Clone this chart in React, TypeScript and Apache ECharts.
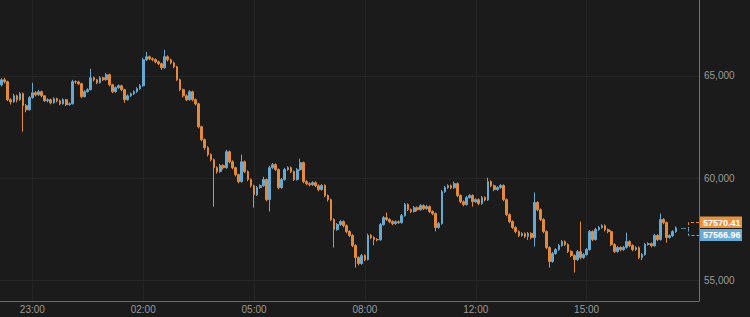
import React, { useEffect, useRef } from "react";
import * as echarts from "echarts";

const opens = [64560, 64800, 64710, 63830, 63730, 64020, 63830, 64120, 63540, 63340,
63930, 64170, 64070, 64220, 64020, 63780, 63830, 63680, 63880, 63780,
63630, 63830, 63590, 63630, 64710, 64700, 64610, 63980, 64220, 64320,
64900, 64800, 64660, 64900, 64810, 65050, 64560, 64220, 64420, 64510,
64320, 63830, 64020, 64120, 64220, 64370, 64510, 65780, 65930, 65830,
65790, 65680, 65590, 65390, 65930, 65780, 65630, 65440, 64810, 64320,
64020, 63830, 64220, 63830, 63630, 62510, 61880, 61490, 61150, 60900,
60510, 60320, 60610, 60510, 61290, 60800, 60510, 60170, 59830, 60800,
60320, 59930, 59630, 59190, 59540, 59630, 59930, 58950, 60510, 60660,
60420, 59540, 59930, 60420, 60510, 60320, 59930, 60410, 60760, 59830,
59730, 59680, 59780, 59630, 59440, 59640, 59150, 58950, 57980, 57490,
57730, 57880, 57680, 57390, 57200, 56710, 56120, 55830, 56220, 56020,
57200, 57100, 57000, 56990, 57730, 58070, 57980, 57880, 57780, 57870,
57830, 58170, 58710, 58460, 58370, 58560, 58460, 58660, 58510, 58610,
58370, 58270, 57590, 57780, 59340, 59540, 59630, 59530, 59730, 59150,
58850, 58710, 59050, 59150, 58850, 58950, 58760, 59050, 58940, 59830,
59630, 59440, 59540, 59640, 58950, 58220, 57880, 57590, 57390, 57200,
57290, 57150, 57300, 57100, 58810, 58460, 57980, 57390, 56610, 55930,
56320, 56510, 56710, 56900, 56760, 56420, 56220, 56020, 56410, 56120,
56270, 56510, 57390, 57000, 57490, 57590, 57680, 57480, 57390, 56760,
56420, 56610, 56510, 56620, 56900, 56710, 56510, 56600, 56120, 56270,
56760, 56800, 56700, 57200, 57000, 57980, 57830, 57100, 57190, 57390];

const closes = [64800, 64710, 63830, 63730, 64020, 63830, 64120, 63540, 63340, 63930,
64170, 64070, 64220, 64020, 63780, 63830, 63680, 63880, 63780, 63630,
63830, 63590, 63630, 64710, 64700, 64610, 63980, 64220, 64320, 64900,
64800, 64660, 64900, 64810, 65050, 64560, 64220, 64420, 64510, 64320,
63830, 64020, 64120, 64220, 64370, 64510, 65780, 65930, 65830, 65790,
65680, 65590, 65390, 65930, 65780, 65630, 65440, 64810, 64320, 64020,
63830, 64220, 63830, 63630, 62510, 61880, 61490, 61150, 60900, 60510,
60320, 60610, 60510, 61290, 60800, 60510, 60170, 59830, 60800, 60320,
59930, 59630, 59190, 59540, 59630, 59930, 58950, 60510, 60660, 60420,
59540, 59930, 60420, 60510, 60320, 59930, 60410, 60760, 59830, 59730,
59680, 59780, 59630, 59440, 59640, 59150, 58950, 57980, 57490, 57730,
57880, 57680, 57390, 57200, 56710, 56120, 55830, 56220, 56020, 57200,
57100, 57000, 56990, 57730, 58070, 57980, 57880, 57780, 57870, 57830,
58170, 58710, 58460, 58370, 58560, 58460, 58660, 58510, 58610, 58370,
58270, 57590, 57780, 59340, 59540, 59630, 59530, 59730, 59150, 58850,
58710, 59050, 59150, 58850, 58950, 58760, 59050, 58940, 59830, 59630,
59440, 59540, 59640, 58950, 58220, 57880, 57590, 57390, 57200, 57290,
57150, 57300, 57100, 58810, 58460, 57980, 57390, 56610, 55930, 56320,
56510, 56710, 56900, 56760, 56420, 56220, 56020, 56410, 56120, 56270,
56510, 57390, 57000, 57490, 57590, 57680, 57480, 57390, 56760, 56420,
56610, 56510, 56620, 56900, 56710, 56510, 56600, 56120, 56270, 56760,
56800, 56700, 57200, 57000, 57980, 57830, 57100, 57190, 57390, 57570.41];

const lows = [64480, 64620, 63760, 63600, 63680, 63700, 63780, 62270, 63220, 63300,
63880, 63990, 64020, 63950, 63720, 63700, 63610, 63640, 63700, 63560,
63590, 63520, 63540, 63600, 64610, 64540, 63900, 63940, 64180, 64280,
64720, 64590, 64620, 64740, 64760, 64480, 64150, 64170, 64360, 64250,
63680, 63790, 63970, 64060, 64170, 64320, 64470, 65720, 65760, 65710,
65610, 65520, 65290, 65350, 65700, 65560, 65370, 64740, 64250, 63940,
63760, 63780, 63750, 63550, 62430, 61800, 61380, 61060, 60820, 58610,
60220, 60260, 60420, 60460, 60720, 60430, 60080, 59740, 59780, 60240,
59850, 59540, 58560, 59130, 59480, 59580, 58870, 58370, 60450, 60350,
59450, 59490, 59880, 60360, 60250, 59860, 59880, 60360, 59750, 59650,
59600, 59620, 59560, 59360, 59390, 59070, 58860, 57900, 56610, 57430,
57670, 57600, 57310, 57120, 56630, 55630, 55740, 55770, 55940, 55980,
57020, 56720, 56910, 56940, 57680, 57910, 57800, 57700, 57720, 57760,
57780, 58120, 58390, 58290, 58320, 58380, 58410, 58440, 58460, 58300,
58190, 57400, 57530, 57730, 59280, 59480, 59460, 59480, 59070, 58770,
58630, 58660, 59000, 58610, 58790, 58680, 58700, 58870, 58890, 59560,
59360, 59380, 59480, 58870, 58140, 57800, 57510, 57310, 57120, 57140,
57070, 56980, 57020, 56660, 58380, 57900, 57310, 56530, 55630, 55870,
56260, 56450, 56650, 56680, 56340, 56140, 55390, 55960, 56040, 56060,
56210, 56460, 56920, 56950, 57430, 57530, 57400, 57310, 56680, 56340,
56360, 56430, 56450, 56560, 56630, 56430, 56450, 56040, 56000, 56210,
56700, 56620, 56650, 56920, 56950, 57750, 56850, 57040, 57130, 57330];

const highs = [64880, 64900, 64760, 63900, 64120, 64080, 64200, 64180, 63620, 64010,
64660, 64250, 64300, 64280, 64060, 63900, 63880, 63950, 63930, 63840,
63900, 63870, 63700, 64800, 64780, 64760, 64660, 64300, 64390, 65340,
64960, 64850, 64980, 64950, 65130, 65100, 64610, 64480, 64580, 64560,
64370, 64090, 64180, 64290, 64440, 64600, 65880, 66170, 65990, 65900,
65850, 65740, 65640, 66270, 66000, 65840, 65690, 65490, 64860, 64380,
64090, 64300, 64270, 63890, 63680, 62560, 61940, 61560, 61210, 60960,
60580, 60690, 60680, 61380, 61350, 60870, 60560, 60220, 61150, 60860,
60380, 59990, 59680, 59620, 59700, 60070, 59980, 60600, 60740, 60720,
60470, 60010, 60500, 60580, 60570, 60370, 60490, 60950, 60810, 59900,
59800, 59850, 59840, 59700, 59710, 59700, 59210, 59000, 58040, 57810,
57950, 57940, 57740, 57460, 57260, 56770, 56180, 56300, 56280, 57290,
57270, 57160, 57070, 57810, 58150, 58320, 58040, 57940, 57940, 57930,
58250, 58790, 58770, 58520, 58640, 58620, 58730, 58720, 58690, 58670,
58430, 58320, 57860, 59420, 59620, 59700, 59690, 59830, 59790, 59210,
58910, 59130, 59220, 59210, 59020, 59010, 59130, 59110, 60020, 59890,
59690, 59610, 59710, 59700, 59010, 58280, 57940, 57650, 57450, 57360,
57350, 57370, 57360, 59300, 58870, 58520, 58040, 57450, 56670, 56400,
56580, 56780, 56980, 56960, 56820, 56480, 56280, 56490, 57880, 56340,
56590, 57470, 57450, 57570, 57660, 57750, 57740, 57540, 57450, 56820,
56690, 56670, 56690, 57340, 56960, 56770, 56670, 56660, 56340, 56840,
56870, 56860, 57280, 57260, 58270, 58040, 57880, 57260, 57460, 57640];

const shownTimeLabels = ["23:00", "02:00", "05:00", "08:00", "12:00", "15:00"];
const gridLevels = [55000, 60000, 65000];
const tagUpper = "57570.41";
const tagLower = "57566.96";

// time categories: 5-minute bars from 22:10, with the 09:00 hour missing
const timeStart = [22, 10];
const categoryCount = 227;
const times: string[] = [];
{
  let h = timeStart[0];
  let m = timeStart[1];
  for (let i = 0; i < categoryCount; i++) {
    times.push(String(h).padStart(2, "0") + ":" + String(m).padStart(2, "0"));
    m += 5;
    if (m === 60) {
      m = 0;
      h = (h + 1) % 24;
    }
    if (h === 9 && m === 0) h = 10;
  }
}

const UP = "#67a9d3";
const DOWN = "#e38b3b";

export default function App() {
  const ref = useRef<HTMLDivElement>(null);
  useEffect(() => {
    if (!ref.current) return;
    const chart = echarts.init(ref.current, null, { renderer: "svg" });
    const candles = opens.map((o, i) => [o, closes[i], lows[i], highs[i]]);
    const showLabel = (_i: number, v: string) => shownTimeLabels.includes(v);
    chart.setOption({
      animation: false,
      backgroundColor: "#1b1b1b",
      grid: { left: 0, right: 51, top: 0, bottom: 16 },
      xAxis: {
        type: "category",
        data: times,
        boundaryGap: true,
        axisLine: { show: true, lineStyle: { color: "#6a6a6a", width: 1 } },
        axisTick: { show: false, interval: showLabel },
        axisLabel: {
          interval: showLabel,
          color: "#9a9a9a",
          fontSize: 10,
          fontFamily: "Liberation Sans, Arial, sans-serif",
          margin: 3,
        },
        splitLine: {
          show: true,
          interval: showLabel,
          alignWithLabel: true,
          lineStyle: { color: "#252525", width: 1 },
        },
      },
      yAxis: {
        type: "value",
        position: "right",
        min: 54000,
        max: 68700,
        interval: 1000,
        axisLine: { show: true, lineStyle: { color: "#727272", width: 1 } },
        axisTick: { show: false },
        splitLine: { show: false },
        axisLabel: {
          color: "#9a9a9a",
          fontSize: 10,
          fontFamily: "Liberation Sans, Arial, sans-serif",
          margin: 5,
          formatter: (v: number) =>
            v % 5000 === 0 ? v.toLocaleString("en-US") : "",
        },
      },
      series: [
        {
          type: "line",
          data: [],
          z: 0,
          silent: true,
          markLine: {
            silent: true,
            symbol: "none",
            z: 0,
            label: { show: false },
            lineStyle: { color: "#252525", width: 1, type: "solid" },
            data: gridLevels.map((v) => ({ yAxis: v })),
          },
        },
        {
          type: "candlestick",
          data: candles,
          barWidth: 2.2,
          z: 2,
          itemStyle: {
            color: UP,
            color0: DOWN,
            borderColor: UP,
            borderColor0: DOWN,
            borderWidth: 1,
          },
        },
      ],
      graphic: [
        {
          type: "polyline",
          shape: { points: [[699, 222.5], [688.5, 222.5], [688.5, 228.5]] },
          style: { stroke: "#e38b3b", lineWidth: 1, lineDash: [3, 2], fill: null },
        },
        {
          type: "polyline",
          shape: { points: [[688.5, 228.5], [688.5, 235.5], [699, 235.5]] },
          style: { stroke: "#67a9d3", lineWidth: 1, lineDash: [3, 2], fill: null },
        },
        {
          type: "line",
          shape: { x1: 681, y1: 228.5, x2: 686, y2: 228.5 },
          style: { stroke: "#5a7f98", lineWidth: 1 },
        },
        {
          type: "rect",
          shape: { x: 699, y: 216.5, width: 43, height: 11.5 },
          style: { fill: "#e8913f" },
        },
        {
          type: "text",
          x: 703,
          y: 222.5,
          style: {
            text: tagUpper,
            fill: "#ffffff",
            fontSize: 9,
            fontWeight: "bold",
            fontFamily: "Liberation Sans, Arial, sans-serif",
            verticalAlign: "middle",
          },
        },
        {
          type: "rect",
          shape: { x: 699, y: 229, width: 43, height: 12 },
          style: { fill: "#6aaad4" },
        },
        {
          type: "text",
          x: 703,
          y: 235.2,
          style: {
            text: tagLower,
            fill: "#ffffff",
            fontSize: 9,
            fontWeight: "bold",
            fontFamily: "Liberation Sans, Arial, sans-serif",
            verticalAlign: "middle",
          },
        },
      ],
    });
    return () => chart.dispose();
  }, []);
  return (
    <div
      ref={ref}
      style={{ position: "absolute", left: 0, top: 0, width: 750, height: 317 }}
    />
  );
}
